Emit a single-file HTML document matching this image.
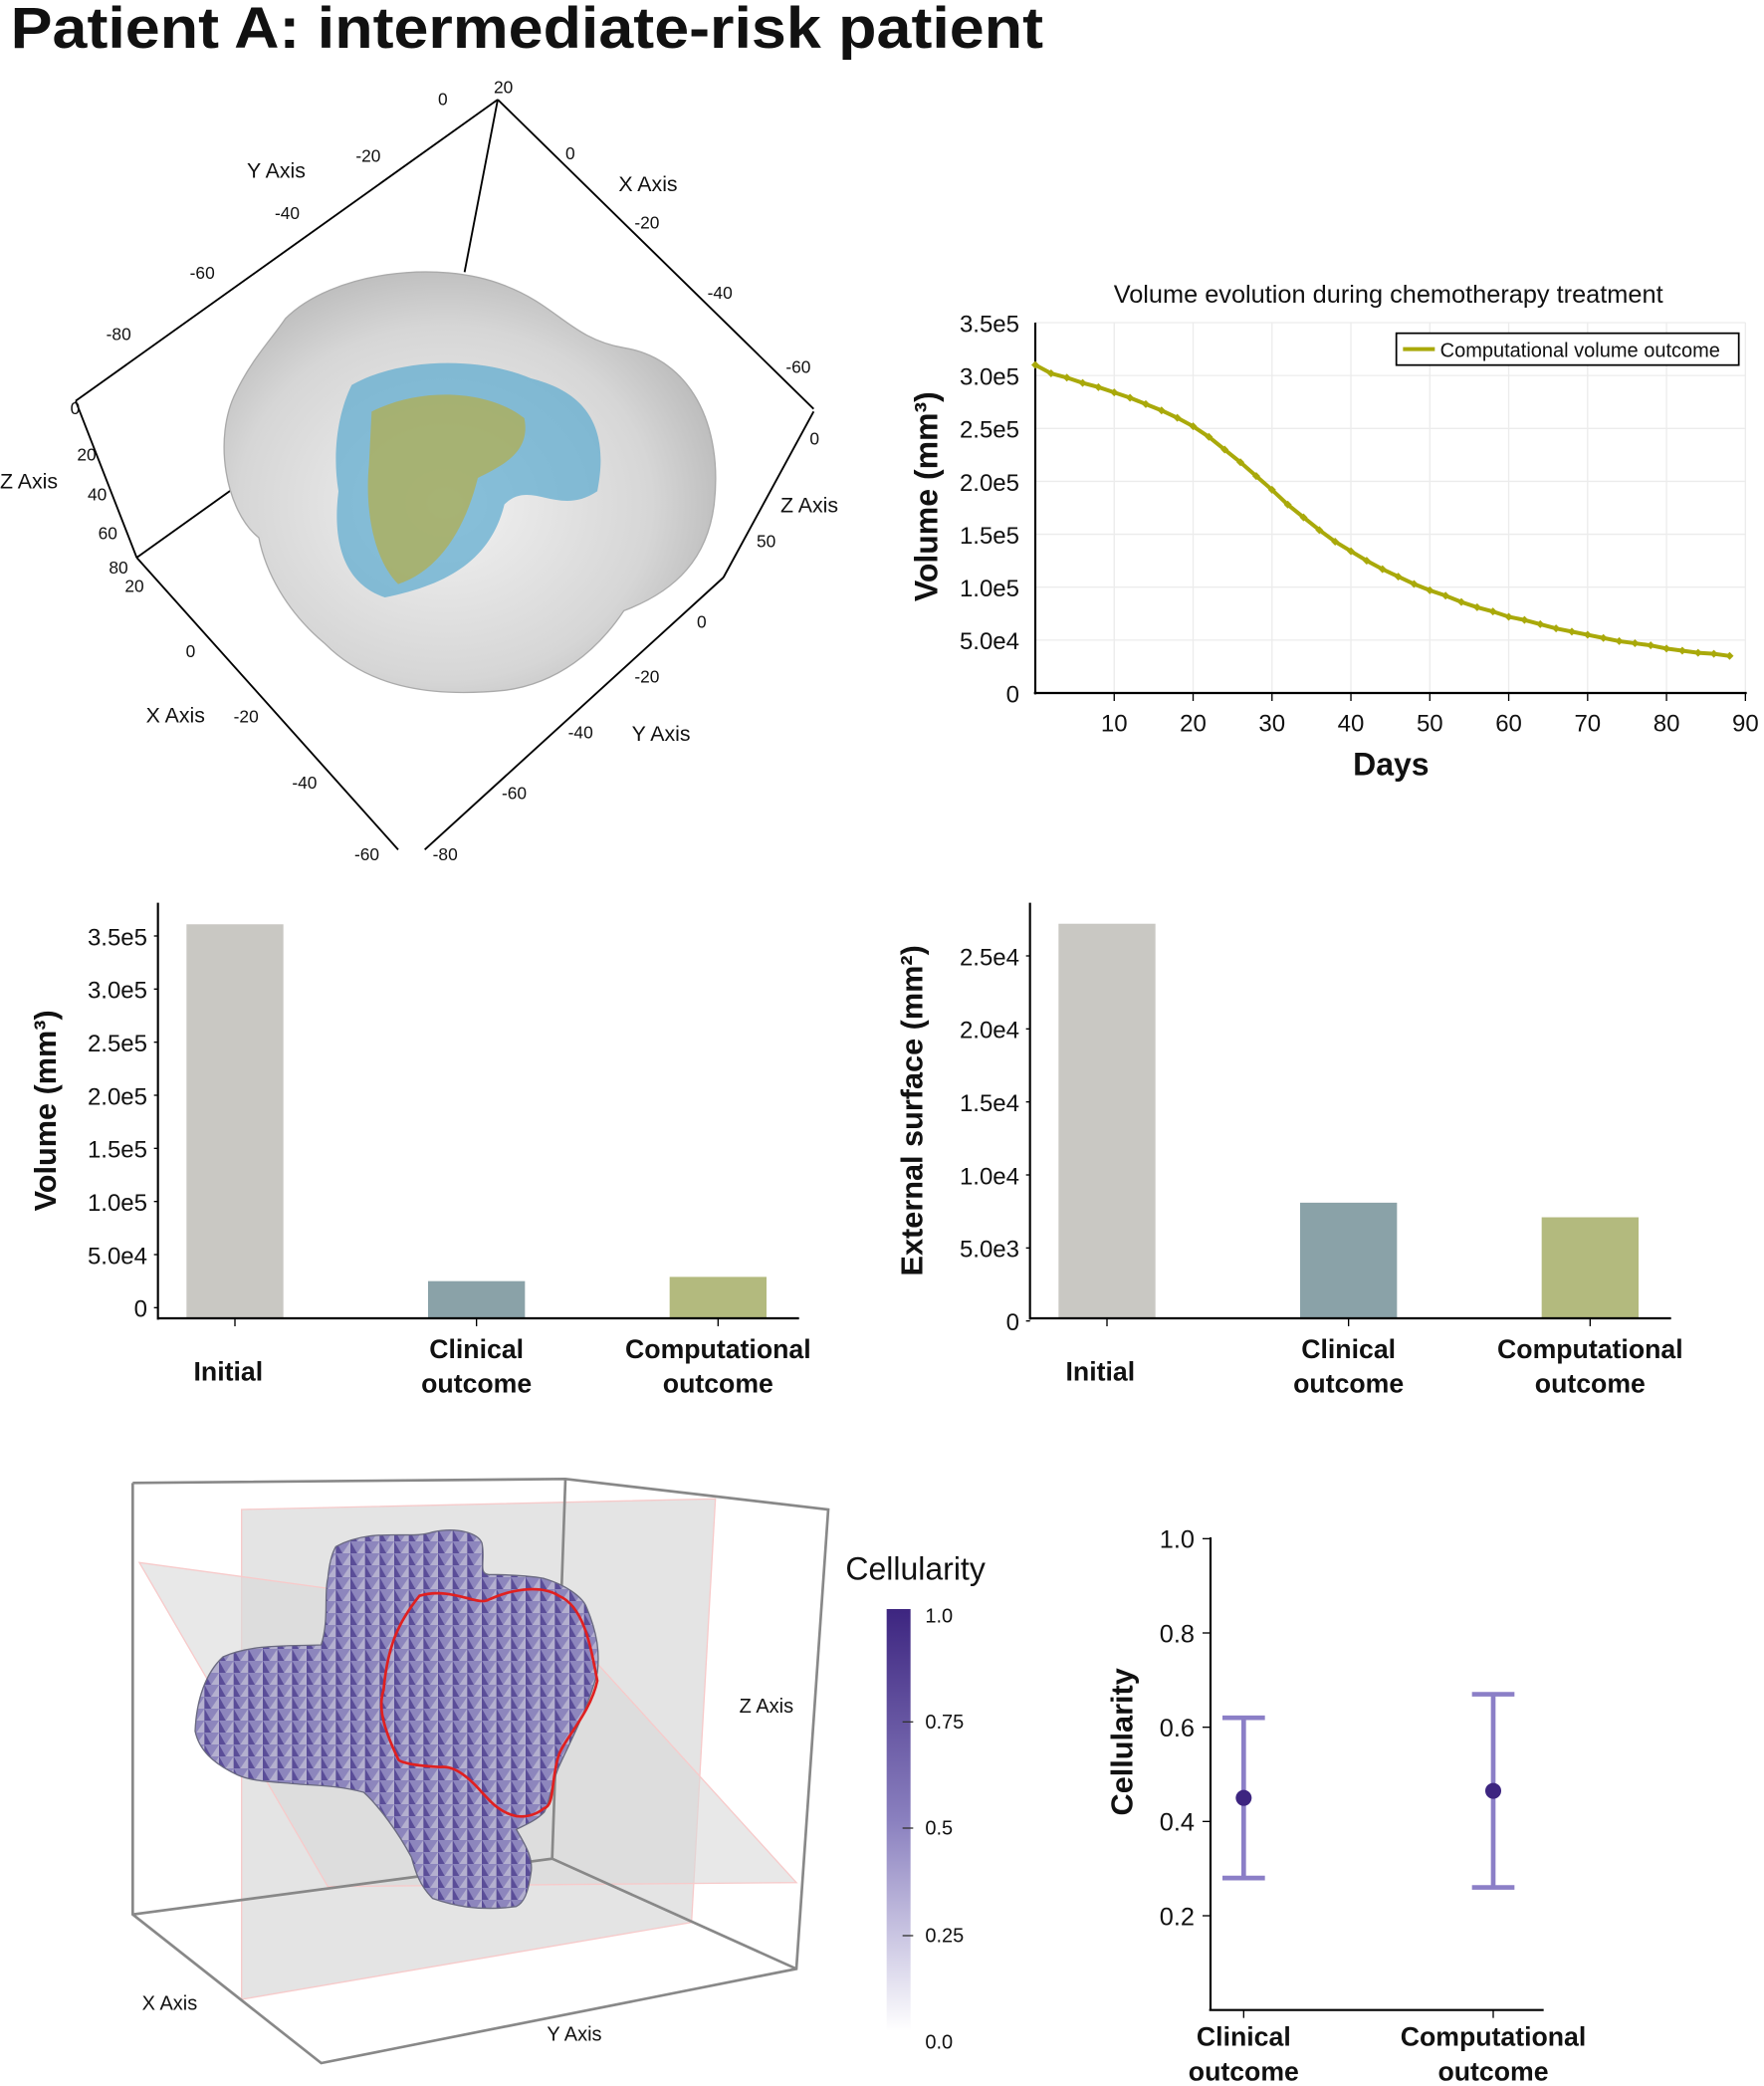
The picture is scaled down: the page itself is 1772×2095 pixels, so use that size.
<!DOCTYPE html>
<html><head><meta charset="utf-8"><style>
html,body{margin:0;padding:0;background:#fff}
svg{display:block}
text{font-family:"Liberation Sans",sans-serif;fill:#111}
</style></head><body>
<svg id="fig" width="1772" height="2095" viewBox="0 0 1329 1571.25" preserveAspectRatio="none">
<defs>
<linearGradient id="cb" x1="0" y1="0" x2="0" y2="1"><stop offset="0" stop-color="#3d2580"/><stop offset="0.5" stop-color="#8a80bf"/><stop offset="1" stop-color="#ffffff"/></linearGradient>
<radialGradient id="gb" cx="0.45" cy="0.55" r="0.6"><stop offset="0" stop-color="#f2f2f2"/><stop offset="0.7" stop-color="#d6d6d6"/><stop offset="1" stop-color="#b8b8b8"/></radialGradient>
<pattern id="mesh" width="11" height="9" patternUnits="userSpaceOnUse"><rect width="11" height="9" fill="#7469ad"/><polygon points="0,0 11,0 5,9" fill="#8d86bd"/><polygon points="5,9 11,0 11,9" fill="#b4b0cf"/><polygon points="0,9 5,9 0,0" fill="#5a4d98"/></pattern>
</defs>
<text x="8" y="36" font-size="44" font-weight="bold" textLength="778" lengthAdjust="spacingAndGlyphs">Patient A: intermediate-risk patient</text>

<g stroke="#000" stroke-width="1.4" fill="none">
<line x1="375" y1="75" x2="57" y2="302"/><line x1="375" y1="75" x2="613" y2="308"/>
<line x1="375" y1="75" x2="350" y2="205"/><line x1="57" y1="302" x2="103" y2="420"/>
<line x1="103" y1="420" x2="300" y2="640"/><line x1="320" y1="640" x2="545" y2="435"/>
<line x1="545" y1="435" x2="613" y2="310"/><line x1="103" y1="420" x2="180" y2="365"/>
</g>
<path d="M215,240 C250,205 330,195 380,215 C420,230 430,255 470,262 C520,270 545,320 538,380 C533,420 510,445 470,460 C450,490 420,515 380,520 C330,525 280,520 245,485 C215,460 200,430 195,405 C170,385 160,330 178,295 C190,270 205,255 215,240 Z" fill="url(#gb)" stroke="#aaa"/>
<path d="M265,290 C300,270 360,268 400,285 C440,295 460,320 450,370 C420,390 400,360 380,380 C370,420 340,440 290,450 C260,440 250,410 255,370 C250,340 255,310 265,290Z" fill="#5aa9cf" fill-opacity="0.7"/>
<path d="M280,310 C320,290 370,295 395,315 C400,340 380,350 360,360 C350,400 330,430 300,440 C280,420 275,380 278,350 Z" fill="#b8ac3e" fill-opacity="0.65"/>
<g font-size="13">
<text x="330" y="79">0</text><text x="372" y="70">20</text><text x="268" y="122">-20</text><text x="207" y="165">-40</text><text x="143" y="210">-60</text><text x="80" y="256">-80</text>
<text x="186" y="134" font-size="16">Y Axis</text><text x="466" y="144" font-size="16">X Axis</text>
<text x="426" y="120">0</text><text x="478" y="172">-20</text><text x="533" y="225">-40</text><text x="592" y="281">-60</text>
<text x="53" y="312">0</text><text x="58" y="347">20</text><text x="66" y="377">40</text><text x="74" y="406">60</text><text x="82" y="432">80</text>
<text x="0" y="368" font-size="16">Z Axis</text><text x="588" y="386" font-size="16">Z Axis</text>
<text x="610" y="335">0</text><text x="570" y="412">50</text><text x="94" y="446">20</text><text x="140" y="495">0</text>
<text x="110" y="544" font-size="16">X Axis</text><text x="176" y="544">-20</text><text x="220" y="594">-40</text><text x="267" y="648">-60</text>
<text x="525" y="473">0</text><text x="478" y="514">-20</text><text x="428" y="556">-40</text><text x="378" y="602">-60</text><text x="326" y="648">-80</text>
<text x="476" y="558" font-size="16">Y Axis</text>
</g>

<g id="lineChart"></g>
<g id="bar1"></g>
<g id="bar2"></g>

<g>
<polygon points="182,1137 539,1129 521,1448 182,1506" fill="#e4e4e4" stroke="#f7caca" stroke-width="1"/>
<polygon points="105,1177 420,1220 600,1418 247,1421" fill="#d8d8d8" fill-opacity="0.6" stroke="#f7caca"/>
<g stroke="#888" stroke-width="2" fill="none">
<polyline points="100,1117 426,1114 624,1137 600,1483 242,1554 100,1442 100,1117"/>
<polyline points="426,1114 416,1400 100,1442"/><line x1="416" y1="1400" x2="600" y2="1483"/>
</g>
<path d="M253,1165 C280,1150 310,1160 326,1154 C345,1150 360,1155 363,1162 C366,1175 360,1185 368,1186 C390,1186 405,1188 410,1189 C430,1195 440,1205 442,1211 C450,1230 452,1245 450,1260 C442,1290 428,1315 421,1331 C415,1345 414,1358 410,1365 C402,1373 392,1376 389,1378 C396,1390 402,1400 400,1411 C398,1425 395,1433 389,1436 C360,1440 340,1435 326,1430 C316,1420 313,1410 310,1399 C300,1380 285,1360 274,1350 C255,1345 240,1345 226,1344 C205,1342 190,1342 179,1337 C160,1328 150,1318 147,1304 C148,1280 155,1260 168,1248 C190,1238 220,1240 242,1239 C248,1220 244,1200 247,1189 C248,1178 250,1170 253,1165 Z" fill="url(#mesh)" stroke="#6a6a80"/>
<path d="M316,1202 C340,1195 360,1210 368,1205 C390,1195 410,1195 421,1202 C440,1210 445,1240 450,1266 C445,1290 425,1310 421,1322 C415,1340 418,1360 410,1362 C400,1370 390,1368 389,1368 C375,1365 368,1355 363,1350 C350,1335 340,1330 332,1331 C310,1330 300,1327 300,1325 C288,1300 285,1285 289,1273 C292,1240 300,1222 316,1202Z" fill="none" stroke="#e02020" stroke-width="2"/>
<text x="107" y="1514" font-size="15">X Axis</text><text x="412" y="1537" font-size="15">Y Axis</text><text x="557" y="1290" font-size="15">Z Axis</text>
</g>
<text x="637" y="1190" font-size="24">Cellularity</text>
<rect x="668" y="1212" width="18" height="318" fill="url(#cb)"/>
<g font-size="15" stroke="none">
<text x="697" y="1222">1.0</text><text x="697" y="1302">0.75</text><text x="697" y="1382">0.5</text><text x="697" y="1463">0.25</text><text x="697" y="1543">0.0</text>
<line x1="680" y1="1297" x2="688" y2="1297" stroke="#333"/><line x1="680" y1="1377" x2="688" y2="1377" stroke="#333"/><line x1="680" y1="1458" x2="688" y2="1458" stroke="#333"/>
</g>
<g id="errChart"></g>
</svg>
<script>
const NS="http://www.w3.org/2000/svg";
function mk(p,tag,a,txt){const e=document.createElementNS(NS,tag);for(const k in a)e.setAttribute(k,a[k]);if(txt!==undefined)e.textContent=txt;p.appendChild(e);return e;}

const days=[0,2,4,6,8,10,12,14,16,18,20,22,24,26,28,30,32,34,36,38,40,42,44,46,48,50,52,54,56,58,60,62,64,66,68,70,72,74,76,78,80,82,84,86,88];
const volumes=[310,302,298,293,289,284,279,273,267,260,252,242,230,218,205,192,178,166,154,143,134,125,117,110,103,97,92,86,81,77,72,69,65,61,58,55,52,49,47,45,42,40,38,37,35].map(v=>v*1000);
const lineYTicks=[0,50000,100000,150000,200000,250000,300000,350000];
const lineYLabels=["0","5.0e4","1.0e5","1.5e5","2.0e5","2.5e5","3.0e5","3.5e5"];
const lineXTicks=[10,20,30,40,50,60,70,80,90];

const barCats=[["Initial"],["Clinical","outcome"],["Computational","outcome"]];
const volBars=[361000,25000,29000];
const volTicks=[0,50000,100000,150000,200000,250000,300000,350000];
const volTickLabels=["0","5.0e4","1.0e5","1.5e5","2.0e5","2.5e5","3.0e5","3.5e5"];
const surfBars=[27200,8100,7100];
const surfTicks=[0,5000,10000,15000,20000,25000];
const surfTickLabels=["0","5.0e3","1.0e4","1.5e4","2.0e4","2.5e4"];
const barColors=["#c9c8c3","#8aa2a8","#b3ba7e"];

const errCats=[["Clinical","outcome"],["Computational","outcome"]];
const errMean=[0.45,0.465];
const errLow=[0.28,0.26];
const errHigh=[0.62,0.67];
const errTicks=[0.2,0.4,0.6,0.8,1.0];

(function(){
 const g=document.getElementById('lineChart');
 const X=d=>780+(d/90)*535, Y=v=>522-(v/350000)*279;
 mk(g,'text',{x:1046,y:228,'font-size':19,'text-anchor':'middle'},'Volume evolution during chemotherapy treatment');
 lineXTicks.forEach(t=>{const l=mk(g,'line',{x1:X(t),x2:X(t),y1:243,y2:522,stroke:'#ececec'});});
 lineYTicks.forEach((t,i)=>{const l=mk(g,'line',{x1:780,x2:1315,y1:Y(t),y2:Y(t),stroke:'#ececec'});
  const tx=mk(g,'text',{x:768,y:Y(t)+7,'font-size':18,'text-anchor':'end'},lineYLabels[i]);});
 mk(g,'line',{x1:780,x2:780,y1:243,y2:523,stroke:'#000','stroke-width':1.6});
 mk(g,'line',{x1:779,x2:1316,y1:522,y2:522,stroke:'#000','stroke-width':1.6});
 lineXTicks.forEach(t=>{mk(g,'line',{x1:X(t),x2:X(t),y1:522,y2:528,stroke:'#000'});
  const tx=mk(g,'text',{x:X(t),y:551,'font-size':18,'text-anchor':'middle'},String(t));});
 const yl=mk(g,'text',{x:0,y:0,'font-size':24,'font-weight':'bold','text-anchor':'middle',transform:'translate(706,374) rotate(-90)'},'Volume (mm³)');
 const xl=mk(g,'text',{x:1048,y:584,'font-size':24,'font-weight':'bold','text-anchor':'middle'},'Days');
 const path=mk(g,'polyline',{points:days.map((d,i)=>X(d)+','+Y(volumes[i])).join(' '),fill:'none',stroke:'#a9a90a','stroke-width':3});
 
 days.forEach((d,i)=>{const p=mk(g,'path',{d:`M${X(d)-3},${Y(volumes[i])} L${X(d)},${Y(volumes[i])-3} L${X(d)+3},${Y(volumes[i])} L${X(d)},${Y(volumes[i])+3}Z`,fill:'#a9a90a'});});
 const lg=mk(g,'g',{});
 mk(lg,'rect',{x:1052,y:251,width:258,height:24,fill:'#fff',stroke:'#000','stroke-width':1.3});
 mk(lg,'line',{x1:1057,x2:1081,y1:263,y2:263,stroke:'#a9a90a','stroke-width':3});
 mk(lg,'text',{x:1085,y:269,'font-size':15},'Computational volume outcome');
})();

function barChart(id,ax,base,zeroY,pxPer,ticks,labels,vals,ylab,ylabX,top){
 const g=document.getElementById(id);
 const Y=v=>zeroY-v*pxPer;
 const centers=[ax+58,ax+240,ax+422];
 vals.forEach((v,i)=>{const r=mk(g,'rect',{x:centers[i]-36.5,y:Y(v),width:73,height:base-Y(v),fill:barColors[i]});
  mk(g,'line',{x1:centers[i],x2:centers[i],y1:base,y2:base+6,stroke:'#000'});
  barCats[i].forEach((s,j)=>{const t=mk(g,'text',{x:centers[i]+(i==0?-5:0),y:(barCats[i].length==1?base+47:base+30+j*26),'font-size':20,'font-weight':'bold','text-anchor':'middle'},s);});});
 mk(g,'line',{x1:ax,x2:ax,y1:top,y2:base+1,stroke:'#000','stroke-width':1.6});
 mk(g,'line',{x1:ax,x2:ax+483,y1:base,y2:base,stroke:'#000','stroke-width':1.6});
 ticks.forEach((t,i)=>{mk(g,'line',{x1:ax-3,x2:ax,y1:Y(t),y2:Y(t),stroke:'#000'});
  const tx=mk(g,'text',{x:ax-8,y:Y(t)+7,'font-size':18,'text-anchor':'end'},labels[i]);});
 const yl=mk(g,'text',{x:0,y:0,'font-size':23,'font-weight':'bold','text-anchor':'middle',transform:`translate(${ylabX},${(top+base)/2}) rotate(-90)`},ylab);
}
barChart('bar1',119,993,985,40/50000,volTicks,volTickLabels,volBars,'Volume (mm³)',42,680);
barChart('bar2',776,993,995,55/5000,surfTicks,surfTickLabels,surfBars,'External surface (mm²)',695,680);

(function(){
 const g=document.getElementById('errChart');
 const Y=v=>1514-v*355, xs=[937,1125];
 mk(g,'line',{x1:912,x2:912,y1:1158,y2:1514,stroke:'#000','stroke-width':1.6});
 mk(g,'line',{x1:911,x2:1163,y1:1514,y2:1514,stroke:'#000','stroke-width':1.6});
 errTicks.forEach(t=>{mk(g,'line',{x1:906,x2:912,y1:Y(t),y2:Y(t),stroke:'#000'});
  const tx=mk(g,'text',{x:900,y:Y(t)+7,'font-size':19,'text-anchor':'end'},t.toFixed(1));});
 const yl=mk(g,'text',{x:0,y:0,'font-size':23,'font-weight':'bold','text-anchor':'middle',transform:'translate(853,1312) rotate(-90)'},'Cellularity');
 xs.forEach((x,i)=>{
  const e=mk(g,'g',{stroke:'#8b7fc7','stroke-width':3.5});
  mk(e,'line',{x1:x,x2:x,y1:Y(errLow[i]),y2:Y(errHigh[i])});
  mk(e,'line',{x1:x-16,x2:x+16,y1:Y(errLow[i]),y2:Y(errLow[i])});
  mk(e,'line',{x1:x-16,x2:x+16,y1:Y(errHigh[i]),y2:Y(errHigh[i])});
  const c=mk(g,'circle',{cx:x,cy:Y(errMean[i]),r:6,fill:'#3d2580'});
  mk(g,'line',{x1:x,x2:x,y1:1514,y2:1520,stroke:'#000'});
  errCats[i].forEach((s,j)=>{const t=mk(g,'text',{x:x,y:1541+j*26,'font-size':20,'font-weight':'bold','text-anchor':'middle'},s);});
 });
})();
</script>
</body></html>
